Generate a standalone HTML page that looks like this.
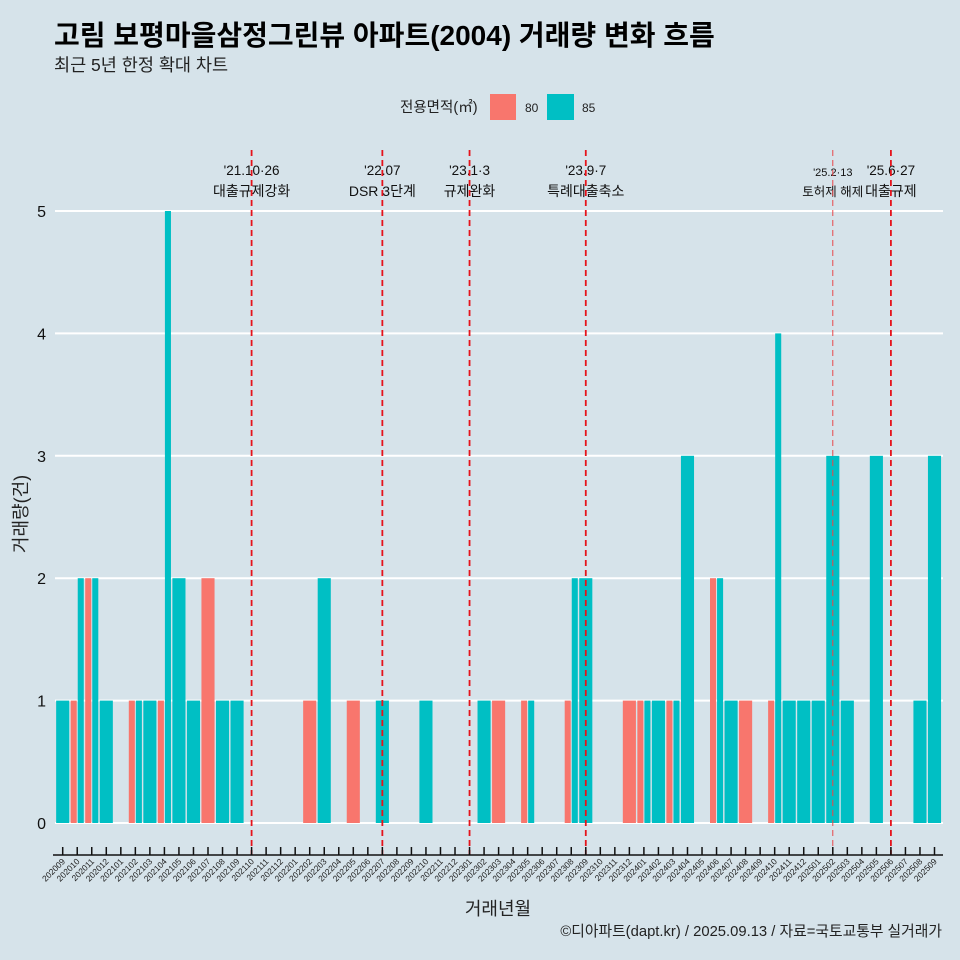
<!DOCTYPE html>
<html><head><meta charset="utf-8"><style>
body{margin:0;background:#d6e3ea;}
svg{display:block;font-family:"Liberation Sans","Noto Sans CJK KR",sans-serif;}
</style></head><body>
<svg id="chart" width="960" height="960" xmlns="http://www.w3.org/2000/svg">
<rect width="960" height="960" fill="#d6e3ea"/>
<text x="54" y="45" font-size="28" font-weight="bold" fill="#000">고림 보평마을삼정그린뷰 아파트(2004) 거래량 변화 흐름</text>
<text x="54" y="71" font-size="17.5" fill="#222">최근 5년 한정 확대 차트</text>
<g>
<text x="400" y="112" font-size="14.5" fill="#222">전용면적(㎡)</text>
<rect x="490" y="94" width="26" height="26" fill="#f8766d"/>
<text x="525" y="112" font-size="12" fill="#222">80</text>
<rect x="547" y="94" width="27" height="26" fill="#00bfc4"/>
<text x="582" y="112" font-size="12" fill="#222">85</text>
</g>
<g id="grid"></g><g id="bars"></g><g id="ann"></g><g id="xaxis"></g>
<text x="27" y="514" font-size="18" fill="#222" text-anchor="middle" transform="rotate(-90 27 514)">거래량(건)</text>
<text x="498" y="915" font-size="18" fill="#222" text-anchor="middle">거래년월</text>
<text x="942" y="936" font-size="14.8" fill="#222" text-anchor="end">©디아파트(dapt.kr) / 2025.09.13 / 자료=국토교통부 실거래가</text>
</svg>
<script>
const months=["202009","202010","202011","202012","202101","202102","202103","202104","202105","202106","202107","202108","202109","202110","202111","202112","202201","202202","202203","202204","202205","202206","202207","202208","202209","202210","202211","202212","202301","202302","202303","202304","202305","202306","202307","202308","202309","202310","202311","202312","202401","202402","202403","202404","202405","202406","202407","202408","202409","202410","202411","202412","202501","202502","202503","202504","202505","202506","202507","202508","202509"];
const series80={"202010":1,"202011":2,"202102":1,"202104":1,"202107":2,"202202":1,"202205":1,"202303":1,"202305":1,"202308":1,"202312":1,"202401":1,"202403":1,"202406":2,"202408":1,"202410":1};
const series85={"202009":1,"202010":2,"202011":2,"202012":1,"202102":1,"202103":1,"202104":5,"202105":2,"202106":1,"202108":1,"202109":1,"202203":2,"202207":1,"202210":1,"202302":1,"202305":1,"202308":2,"202309":2,"202401":1,"202402":1,"202403":1,"202404":3,"202406":2,"202407":1,"202410":4,"202411":1,"202412":1,"202501":1,"202502":3,"202503":1,"202505":3,"202508":1,"202509":3};
const yTicks=[0,1,2,3,4,5];
const eventMonth=["202110","202207","202301","202309","202502","202506"];
const eventDate=["'21.10·26","'22.07","'23.1·3","'23.9·7","'25.2·13","'25.6·27"];
const eventText=["대출규제강화","DSR 3단계","규제완화","특례대출축소","토허제 해제","대출규제"];
const NS="http://www.w3.org/2000/svg";
const x=i=>62.7+i*14.53;
const y=v=>823-v*122.4;
const BW=13.1;
function mk(tag,attrs,parent){const e=document.createElementNS(NS,tag);for(const k in attrs)e.setAttribute(k,attrs[k]);parent.appendChild(e);return e;}
const grid=document.getElementById('grid'),bars=document.getElementById('bars'),ann=document.getElementById('ann'),xa=document.getElementById('xaxis');
yTicks.forEach(t=>{
  const l=mk('line',{x1:55,x2:943,y1:y(t),y2:y(t),stroke:'#fff','stroke-width':2},grid);
  
  
  const tx=mk('text',{x:46,y:y(t)+6,'font-size':16,'text-anchor':'end',fill:'#111'},grid);
  tx.textContent=t;
  
  
});
months.forEach((m,i)=>{
  const a=series80[m]||0,b=series85[m]||0;
  const cx=x(i);
  if(a&&b){
    const r1=mk('rect',{x:cx-BW/2,y:y(a),width:BW/2-0.5,height:y(0)-y(a),fill:'#f8766d'},bars);
    
    
    const r2=mk('rect',{x:cx+0.5,y:y(b),width:BW/2-0.5,height:y(0)-y(b),fill:'#00bfc4'},bars);
    
    
  }else if(a||b){
    const v=a||b;
    const r=mk('rect',{x:cx-BW/2,y:y(v),width:BW,height:y(0)-y(v),fill:a?'#f8766d':'#00bfc4'},bars);
    
    
  }
  const tk=mk('line',{x1:cx,x2:cx,y1:847,y2:855,stroke:'#111','stroke-width':1.5},xa);
  
  
  const lb=mk('text',{x:cx+3,y:862,'font-size':8.5,'text-anchor':'end',fill:'#222',transform:`rotate(-45 ${cx+3} 862)`},xa);
  lb.textContent=m;
  
  
});
const ax=mk('line',{x1:53,x2:943,y1:855,y2:855,stroke:'#111','stroke-width':1.5},xa);


eventMonth.forEach((m,k)=>{
  const cx=x(months.indexOf(m));
  const small=k===4;
  const t1=mk('text',{x:cx,y:small?176:175,'font-size':small?11:13.5,'text-anchor':'middle',fill:'#111'},ann);
  t1.textContent=eventDate[k];
  
  
  const t2=mk('text',{x:cx,y:196,'font-size':small?12.5:14,'text-anchor':'middle',fill:'#111'},ann);
  t2.textContent=eventText[k];
  
  
});
eventMonth.forEach((m,k)=>{
  const cx=x(months.indexOf(m));
  const small=k===4;
  const l=mk('line',{x1:cx,x2:cx,y1:150,y2:855,stroke:small?'#e8484a':'#e5131b','stroke-width':small?1:1.8,'stroke-dasharray':'6 4'},ann);
  
  
});
</script>
</body></html>
